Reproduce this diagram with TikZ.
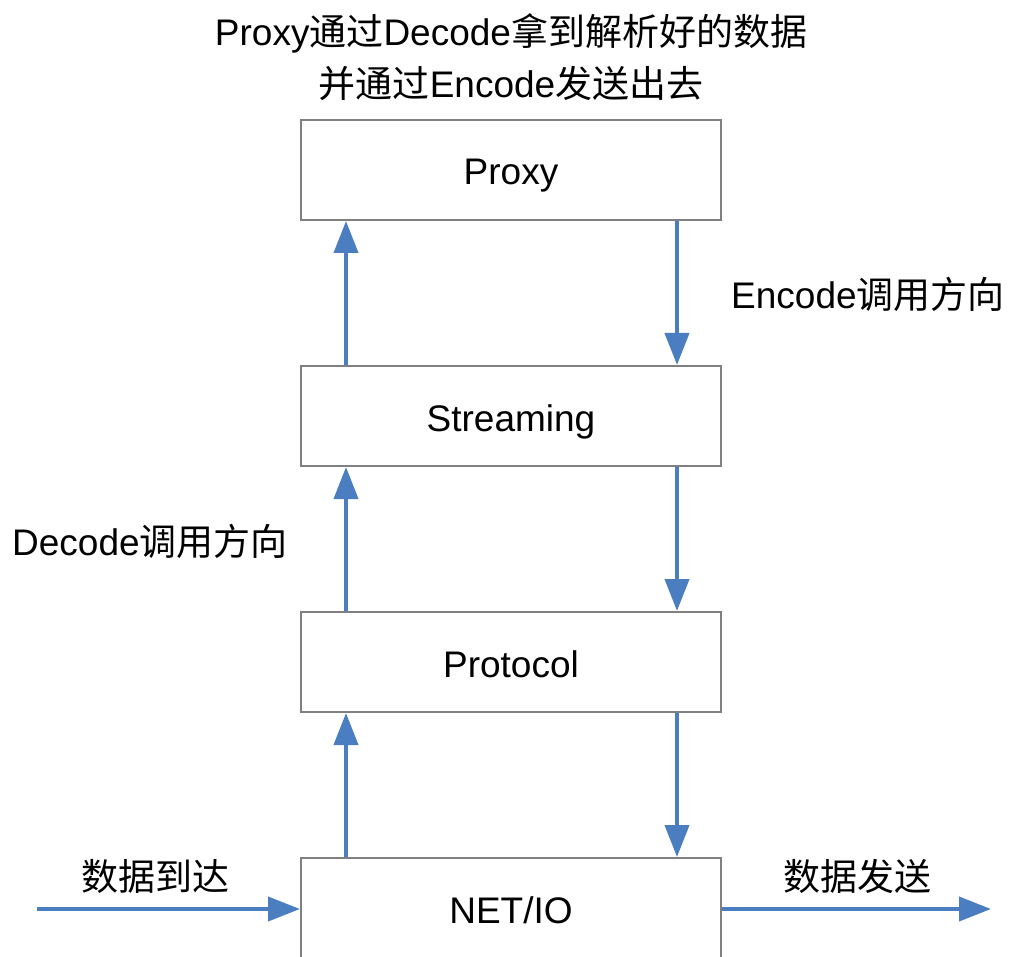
\documentclass[tikz,border=0pt]{standalone}
\usepackage{fontspec}
\setmainfont{Liberation Sans}
\newfontfamily\cjk{Noto Sans CJK SC}
\usetikzlibrary{arrows.meta}
\definecolor{flowblue}{RGB}{74,126,193}
\definecolor{boxgray}{RGB}{128,128,128}
\tikzset{
  layer/.style={draw=boxgray, line width=2pt, minimum width=420pt, minimum height=100pt,
                inner sep=0pt, text height=32pt, text depth=2pt,
                font=\fontsize{37}{44}\selectfont},
  flow/.style={draw=flowblue, line width=4pt, -{Triangle[length=32pt,width=24pt]}},
  caption/.style={inner sep=0pt, anchor=base, font=\fontsize{37}{44}\selectfont},
}
\begin{document}
\begin{tikzpicture}[x=1pt, y=-1pt]
  \useasboundingbox (0,0) rectangle (1017,957);

  % layers
  \node[layer] (proxy)  at (511,170) {Proxy};
  \node[layer] (stream) at (511,416) {Streaming};
  \node[layer] (proto)  at (511,662) {Protocol};
  \node[layer] (net)    at (511,908) {NET/IO};

  % title
  \node[caption] (t1) at (511,46) {Proxy{\cjk 通过}Decode{\cjk 拿到解析好的数据}};
  \node[caption] (t2) at (511,98) {{\cjk 并通过}Encode{\cjk 发送出去}};

  % decode direction (upwards)
  \draw[flow] ([xshift=-165pt]net.north) -- ([xshift=-165pt]proto.south);
  \draw[flow] ([xshift=-165pt]proto.north) -- ([xshift=-165pt]stream.south);
  \draw[flow] ([xshift=-165pt]stream.north) -- ([xshift=-165pt]proxy.south);

  % encode direction (downwards)
  \draw[flow] ([xshift=166pt]proxy.south) -- ([xshift=166pt]stream.north);
  \draw[flow] ([xshift=166pt]stream.south) -- ([xshift=166pt]proto.north);
  \draw[flow] ([xshift=166pt]proto.south) -- ([xshift=166pt]net.north);

  % incoming and outgoing data
  \coordinate (src) at (37,909);
  \coordinate (dst) at (991,909);
  \draw[flow] (src) -- (src -| net.west);
  \draw[flow] (dst -| net.east) -- (dst);

  % labels
  \node[caption, anchor=base west] (enc) at (731,309) {Encode{\cjk 调用方向}};
  \node[caption, anchor=base west] (dec) at (12,555) {Decode{\cjk 调用方向}};
  \node[caption] (arrive) at (155,890) {\cjk 数据到达};
  \node[caption] (send) at (857,890) {\cjk 数据发送};
\end{tikzpicture}
\end{document}
